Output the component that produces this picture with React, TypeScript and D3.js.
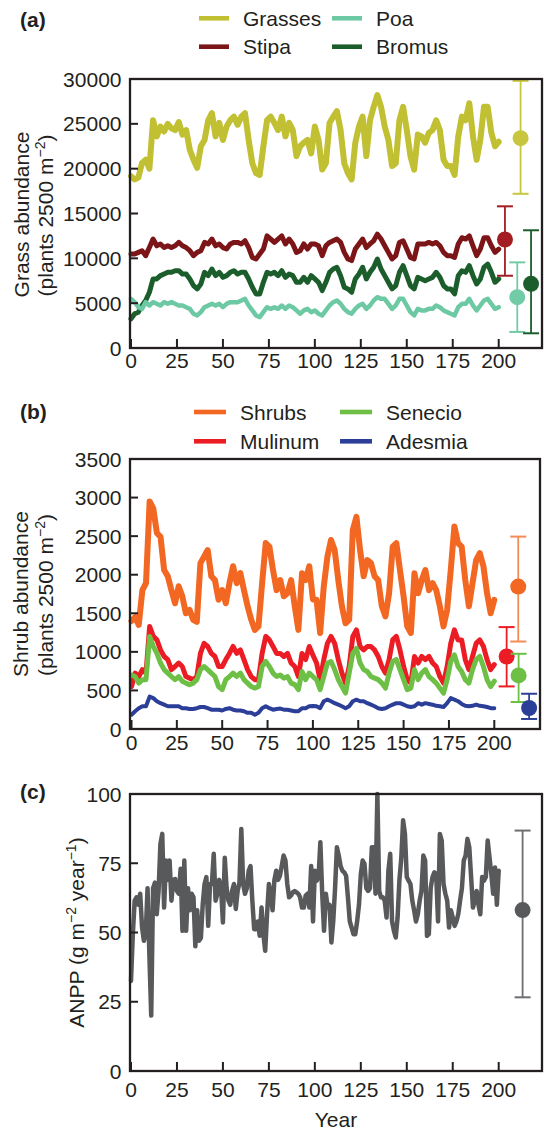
import React from "react";
import * as d3 from "d3";

// ---------- data ----------
const years2 = d3.range(0, 201, 2);
const years1 = d3.range(0, 201, 1);

const xTicks = [0, 25, 50, 75, 100, 125, 150, 175, 200];
const grassTicks = [0, 5000, 10000, 15000, 20000, 25000, 30000];
const shrubTicks = [0, 500, 1000, 1500, 2000, 2500, 3000, 3500];
const anppTicks = [0, 25, 50, 75, 100];

const grasses = [
  19150, 18800, 19000, 20640, 21000, 20000, 25400, 23600, 24700, 24150,
  25000, 24500, 24300, 25200, 23800, 24300, 22100, 21000, 20100, 22500,
  23200, 25400, 26200, 23600, 25100, 23200, 24700, 25400, 25800, 24900,
  25800, 26200, 23200, 20600, 19500, 19300, 22500, 25400, 25800, 25100,
  24300, 25800, 23600, 25100, 24300, 21400, 22500, 22900, 23200, 21700,
  24700, 23200, 19900, 20600, 25100, 25800, 26400, 24300, 20600, 19500,
  18800, 22900, 24700, 25800, 21400, 25400, 26900, 28200, 26900, 24700,
  23200, 20300, 20600, 25400, 26900, 24300, 21400, 19900, 23800, 23600,
  22900, 24000, 24300, 25400, 24300, 21000, 20300, 20300, 19300, 23600,
  25800, 25400, 27300, 23600, 21000, 23200, 26900, 26900, 24000, 22500,
  23000,
];
const stipa = [
  10480, 10480, 10665, 10850, 10300, 11200, 12150, 11400, 11600, 11200,
  11400, 11200, 11400, 11775, 11400, 11200, 10850, 10300, 10665, 10850,
  11775, 11600, 12150, 11400, 11600, 11200, 11035, 11600, 11775, 11775,
  11600, 11960, 11200, 10100, 9925, 10480, 11035, 12500, 12150, 11775,
  12150, 12500, 11600, 12150, 11600, 10665, 10850, 11600, 11035, 11600,
  11600, 11400, 10300, 11400, 11775, 11960, 12150, 11775, 10665, 9925,
  9750, 11035, 11600, 12150, 11200, 11600, 11960, 12700, 12150, 11400,
  10665, 9925, 10300, 11775, 11960, 11035, 10100, 9925, 11600, 11600,
  11600, 11775, 11600, 11775, 11400, 10665, 10300, 10300, 10100, 11600,
  12300, 12150, 12500, 11400, 10300, 11035, 12300, 12300, 11400, 10665,
  11035,
];
const poa = [
  5480, 5110, 4550, 4370, 5110, 4740, 5110, 4930, 4740, 5110,
  4930, 5110, 4930, 4740, 4740, 4550, 4370, 3820, 3630, 4000,
  4550, 4740, 4930, 4740, 4930, 4550, 4930, 5110, 5110, 5110,
  5300, 5480, 4740, 4190, 3630, 3450, 4000, 4550, 4370, 4550,
  4370, 4740, 4370, 4740, 4550, 4190, 3820, 4190, 4370, 4000,
  4190, 3820, 3630, 4190, 4740, 5110, 5300, 4930, 4370, 4000,
  3820, 4370, 4740, 4930, 4370, 4740, 5300, 5670, 5480, 5480,
  4930, 4370, 4740, 5480, 5480, 4740, 4000, 3630, 4370, 4190,
  4190, 4370, 4370, 4740, 4550, 4190, 4000, 3820, 3630, 4550,
  4930, 4930, 5480, 4740, 4190, 4740, 5300, 5480, 4930, 4370,
  4550,
];
const bromus = [
  3260, 3820, 4000, 4740, 5300, 6220, 7700, 7700, 8070, 8250,
  8440, 8440, 8620, 8620, 8250, 8250, 7700, 6960, 6590, 7140,
  8440, 8070, 8810, 8070, 8440, 7880, 8070, 8440, 8620, 8250,
  8440, 8440, 7700, 6775, 6035, 6035, 7330, 8440, 8250, 8440,
  8070, 8620, 7880, 8250, 8070, 7330, 7330, 7880, 7330, 8070,
  7700, 7330, 6400, 7330, 8440, 8810, 9000, 8070, 6775, 6590,
  6220, 7700, 8250, 9000, 7700, 8440, 9000, 9920, 8810, 8070,
  7330, 6590, 6960, 8440, 9180, 8070, 6960, 6590, 7880, 7700,
  7510, 7700, 7880, 8440, 7880, 6960, 6590, 6590, 6035, 8070,
  8620, 8440, 9180, 8070, 7140, 7700, 9000, 9360, 8440, 7330,
  7700,
];

const shrubs = [
  1400, 1450, 1350, 1800, 1890, 2950, 2860, 2540, 2490, 2060,
  1980, 1800, 1630, 1850, 1720, 1500, 1545, 1415, 1390, 2150,
  2235, 2320, 1980, 1930, 1675, 1800, 1630, 1890, 2110, 1890,
  2020, 1800, 1590, 1415, 1285, 1330, 1890, 2410, 2365, 2060,
  1800, 1930, 1720, 1760, 1930, 1590, 1285, 2020, 1930, 2110,
  1680, 1675, 1245, 1850, 2235, 2450, 2320, 1930, 1590, 1370,
  1415, 2580, 2750, 2320, 1980, 2190, 2150, 1980, 1930, 1590,
  1460, 1760, 2365, 2410, 2060, 1720, 1330, 1245, 2020, 1760,
  1930, 2060, 1800, 1890, 1800, 1590, 1330, 1545, 2060, 2625,
  2410, 2365, 1930, 1590, 1890, 2190, 2280, 2110, 1760, 1500,
  1675,
];
const mulinum = [
  550, 725, 680, 770, 725, 1330, 1200, 1155, 1025, 940,
  900, 770, 810, 855, 810, 680, 660, 640, 680, 980,
  1110, 1070, 980, 940, 810, 810, 900, 980, 1070, 980,
  1025, 900, 770, 680, 640, 640, 980, 1200, 1155, 1070,
  980, 980, 940, 980, 855, 810, 680, 980, 900, 1070,
  960, 855, 640, 900, 1110, 1200, 1110, 900, 725, 595,
  810, 1200, 1285, 1070, 1025, 1070, 1070, 1025, 940, 810,
  725, 900, 1155, 1200, 1025, 810, 640, 595, 940, 855,
  940, 900, 940, 855, 810, 680, 595, 810, 1110, 1285,
  1155, 1155, 900, 770, 940, 1110, 1155, 1070, 900, 770,
  835,
];
const senecio = [
  700, 680, 595, 640, 640, 1200, 1070, 980, 855, 770,
  725, 680, 640, 680, 620, 595, 575, 595, 640, 770,
  810, 770, 725, 680, 550, 510, 640, 680, 725, 680,
  725, 640, 595, 550, 530, 550, 810, 875, 810, 725,
  680, 700, 660, 680, 595, 575, 510, 745, 640, 725,
  680, 640, 510, 680, 855, 875, 770, 640, 550, 465,
  725, 980, 1045, 855, 770, 745, 680, 660, 640, 595,
  530, 725, 875, 900, 770, 640, 510, 530, 770, 640,
  725, 770, 680, 640, 595, 530, 465, 640, 875, 960,
  810, 745, 640, 595, 770, 900, 940, 810, 640, 550,
  620,
];
const adesmia = [
  185, 230, 270, 295, 295, 420, 400, 360, 335, 315,
  295, 295, 295, 295, 270, 270, 260, 260, 270, 285,
  285, 270, 250, 250, 250, 240, 260, 270, 250, 240,
  240, 230, 210, 210, 185, 210, 270, 295, 270, 250,
  260, 265, 250, 250, 240, 230, 230, 270, 270, 295,
  298, 295, 270, 360, 380, 360, 335, 315, 295, 270,
  295, 360, 380, 360, 360, 335, 315, 295, 270, 260,
  270, 295, 315, 335, 335, 315, 295, 285, 295, 335,
  315, 335, 325, 315, 300, 295, 285, 335, 400, 380,
  360, 325, 300, 295, 300, 315, 300, 295, 285, 270,
  270,
];

const anpp = [
  32.5, 49.4, 61.5, 62.7, 60, 64, 52, 47, 49.4, 66,
  42, 20, 66, 68, 56.6, 65, 82, 85.6, 59, 76,
  69, 76, 61.5, 69, 69.3, 65, 64, 73, 50.6, 76,
  50.6, 66, 58, 64, 62.7, 45, 58, 47, 48, 60,
  67.5, 70, 52.4, 67.5, 67.5, 78.4, 61.5, 64, 69, 66,
  53.6, 77, 66, 61.5, 60, 65, 67.5, 58.5, 65, 68,
  87.4, 67.5, 64, 66, 72.3, 74, 61.5, 51.2, 51.2, 54,
  48.8, 59, 49.4, 43.4, 56.6, 67.5, 64, 58, 69, 72.3,
  69, 70.5, 74, 77.8, 76, 67.5, 62.7, 63.3, 64.5, 65,
  64.5, 64, 62.7, 59, 59, 63.3, 64, 59, 74, 54,
  72.3, 68.7, 70, 82.6, 64, 50.6, 64, 59, 60, 46.4,
  54, 66, 80.8, 77.8, 74, 72.3, 71.7, 70.5, 62.7, 54,
  51.8, 49.4, 49.4, 54, 60, 71, 76, 74.8, 66, 65,
  66, 80.8, 80.8, 64, 100, 65, 62.7, 62.7, 61.5, 55.4,
  72.3, 78.4, 54, 50.6, 48.2, 55.4, 69, 76.6, 90.5, 85.6,
  70, 68.7, 67.5, 61.5, 58, 54, 56.6, 61.5, 65, 77.8,
  76, 48.8, 49.4, 66, 70, 71.7, 71, 54, 85.6, 83.2,
  67.5, 64, 61.5, 51.8, 58, 55.4, 52.4, 54, 56.6, 61.5,
  66, 76, 77.8, 83.8, 80.8, 70, 59, 61.5, 65, 60,
  56.6, 70, 68.7, 70, 83.2, 77.2, 71, 64, 73.5, 60,
  72.3,
];

// summary (mean and range) shown at the right of each panel
const grassNames = ["Grasses", "Stipa", "Poa", "Bromus"];
const grassMean = [23400, 12100, 5670, 7160];
const grassLo = [17200, 8060, 1790, 1640];
const grassHi = [29800, 15800, 9550, 13130];

const shrubNames = ["Shrubs", "Mulinum", "Senecio", "Adesmia"];
const shrubMean = [1846, 940, 694, 272];
const shrubLo = [1134, 552, 350, 130];
const shrubHi = [2494, 1321, 975, 457];

const anppMean = [58.1];
const anppLo = [26.6];
const anppHi = [86.8];

// ---------- styling / layout ----------
const FONT = '"Liberation Sans", Arial, Helvetica, sans-serif';
const INK = "#231f20";
const FS = 21;

const grassColors = ["#c1bf32", "#7b1517", "#6dc9a3", "#1b5e2b"];
const grassBarColors = ["#c8c63e", "#a21c22", "#72cba7", "#1b5e2b"];
const grassWidths = [6, 5, 4.5, 5];
const grassBarPos = [211.9, 203.4, 210.1, 217.6];

const shrubColors = ["#f26722", "#ec1c24", "#6dbf45", "#2b3f98"];
const shrubBarColors = ["#f68c55", "#ec1c24", "#6dbf45", "#2b3f98"];
const shrubWidths = [6, 5, 5, 4];
const shrubBarPos = [213.2, 206.8, 213.4, 219.2];

const anppColor = "#58595b";
const anppBarColor = "#6d6e71";
const anppBarPos = [213];

type Frame = { l: number; r: number; t: number; b: number; x200: number; x0: number };
const frameA: Frame = { l: 130, r: 542, t: 79, b: 348, x0: 131, x200: 498.7 };
const frameB: Frame = { l: 130, r: 540, t: 459, b: 729, x0: 131.5, x200: 494.3 };
const frameC: Frame = { l: 130, r: 542, t: 794, b: 1071, x0: 131, x200: 498.7 };

function Axes({ f, y, yTicks, labelBase }: { f: Frame; y: d3.ScaleLinear<number, number>; yTicks: number[]; labelBase: number }) {
  const x = d3.scaleLinear().domain([0, 200]).range([f.x0, f.x200]);
  return (
    <g>
      {xTicks.map((t) => (
        <g key={"x" + t}>
          <line x1={x(t)} x2={x(t)} y1={f.b} y2={f.b - 9} stroke={INK} strokeWidth={2} />
          <text x={x(t)} y={labelBase} textAnchor="middle" fontSize={FS} fill={INK}>
            {t}
          </text>
        </g>
      ))}
      {yTicks.map((t) => (
        <g key={"y" + t}>
          <line x1={f.l} x2={f.l + 8} y1={y(t)} y2={y(t)} stroke={INK} strokeWidth={2} />
          <text x={121.5} y={y(t)} dy="0.36em" textAnchor="end" fontSize={FS} fill={INK}>
            {t}
          </text>
        </g>
      ))}
      <rect x={f.l} y={f.t} width={f.r - f.l} height={f.b - f.t} fill="none" stroke={INK} strokeWidth={2.3} />
    </g>
  );
}

function ErrBar({ cx, yMean, yLo, yHi, color, dot }: { cx: number; yMean: number; yLo: number; yHi: number; color: string; dot: string }) {
  return (
    <g>
      <line x1={cx} x2={cx} y1={yLo} y2={yHi} stroke={color} strokeWidth={1.8} />
      <line x1={cx - 8} x2={cx + 8} y1={yLo} y2={yLo} stroke={color} strokeWidth={2} />
      <line x1={cx - 8} x2={cx + 8} y1={yHi} y2={yHi} stroke={color} strokeWidth={2} />
      <circle cx={cx} cy={yMean} r={8} fill={dot} />
    </g>
  );
}

function LegendItem({ x1, x2, y, label, color, w }: { x1: number; x2: number; y: number; label: string; color: string; w: number }) {
  return (
    <g>
      <line x1={x1} x2={x2} y1={y} y2={y} stroke={color} strokeWidth={w} />
      <text x={x2 + 14} y={y + 7.6} fontSize={FS} fill={INK}>
        {label}
      </text>
    </g>
  );
}

export default function App() {
  const xA = d3.scaleLinear().domain([0, 200]).range([frameA.x0, frameA.x200]);
  const xB = d3.scaleLinear().domain([0, 200]).range([frameB.x0, frameB.x200]);
  const xC = d3.scaleLinear().domain([0, 200]).range([frameC.x0, frameC.x200]);
  const yA = d3.scaleLinear().domain([0, 30000]).range([frameA.b, frameA.t]);
  const yB = d3.scaleLinear().domain([0, 3500]).range([frameB.b, frameB.t]);
  const yC = d3.scaleLinear().domain([0, 100]).range([frameC.b, frameC.t]);

  const lineA = d3.line<number>().x((_, i) => xA(years2[i])).y((d) => yA(d));
  const lineB = d3.line<number>().x((_, i) => xB(years2[i])).y((d) => yB(d));
  const lineC = d3.line<number>().x((_, i) => xC(years1[i])).y((d) => yC(d));

  const grassSeries = [grasses, stipa, poa, bromus];
  const grassOrder = [0, 1, 3, 2];
  const shrubSeries = [shrubs, mulinum, senecio, adesmia];
  const shrubOrder = [0, 1, 2, 3];

  return (
    <svg
      width={544}
      height={1130}
      style={{ position: "absolute", left: 0, top: 0, background: "#fff" }}
      fontFamily={FONT}
    >
      <rect x={0} y={0} width={544} height={1130} fill="#fff" />

      {/* ---------- panel (a) ---------- */}
      <text x={20} y={27.3} fontSize={FS} fontWeight="bold" fill={INK}>(a)</text>
      <LegendItem x1={199} x2={229} y={18.3} label={grassNames[0]} color={grassColors[0]} w={4.6} />
      <LegendItem x1={332} x2={362} y={18.3} label={grassNames[2]} color={grassColors[2]} w={4.6} />
      <LegendItem x1={199} x2={229} y={46.7} label={grassNames[1]} color={grassColors[1]} w={4.6} />
      <LegendItem x1={332} x2={362} y={46.7} label={grassNames[3]} color={grassColors[3]} w={4.6} />

      <text transform={`translate(28.5, ${(frameA.t + frameA.b) / 2 + 1}) rotate(-90)`} textAnchor="middle" fontSize={FS} fill={INK}>
        Grass abundance
      </text>
      <text transform={`translate(52.5, ${(frameA.t + frameA.b) / 2 + 2}) rotate(-90)`} textAnchor="middle" fontSize={FS} fill={INK}>
        (plants 2500 m<tspan dy={-8} fontSize={14}>−2</tspan><tspan dy={8}>)</tspan>
      </text>

      {grassOrder.map((k) => (
        <path key={"ga" + k} d={lineA(grassSeries[k]) || ""} fill="none" stroke={grassColors[k]} strokeWidth={grassWidths[k]} strokeLinejoin="round" strokeLinecap="round" />
      ))}
      {grassNames.map((n, k) => (
        <ErrBar key={"ea" + n} cx={xA(grassBarPos[k])} yMean={yA(grassMean[k])} yLo={yA(grassLo[k])} yHi={yA(grassHi[k])} color={grassBarColors[k]} dot={grassBarColors[k]} />
      ))}
      <Axes f={frameA} y={yA} yTicks={grassTicks} labelBase={368} />

      {/* ---------- panel (b) ---------- */}
      <text x={20} y={419} fontSize={FS} fontWeight="bold" fill={INK}>(b)</text>
      <LegendItem x1={194} x2={226} y={412} label={shrubNames[0]} color={shrubColors[0]} w={4.6} />
      <LegendItem x1={340} x2={372} y={412} label={shrubNames[2]} color={shrubColors[2]} w={4.6} />
      <LegendItem x1={194} x2={226} y={441.3} label={shrubNames[1]} color={shrubColors[1]} w={4.6} />
      <LegendItem x1={340} x2={372} y={441.3} label={shrubNames[3]} color={shrubColors[3]} w={4.6} />

      <text transform={`translate(28, ${(frameB.t + frameB.b) / 2}) rotate(-90)`} textAnchor="middle" fontSize={FS} fill={INK}>
        Shrub abundance
      </text>
      <text transform={`translate(52.5, ${(frameB.t + frameB.b) / 2 + 1}) rotate(-90)`} textAnchor="middle" fontSize={FS} fill={INK}>
        (plants 2500 m<tspan dy={-8} fontSize={14}>−2</tspan><tspan dy={8}>)</tspan>
      </text>

      {shrubOrder.map((k) => (
        <path key={"sb" + k} d={lineB(shrubSeries[k]) || ""} fill="none" stroke={shrubColors[k]} strokeWidth={shrubWidths[k]} strokeLinejoin="round" strokeLinecap="round" />
      ))}
      {shrubNames.map((n, k) => (
        <ErrBar key={"eb" + n} cx={xB(shrubBarPos[k])} yMean={yB(shrubMean[k])} yLo={yB(shrubLo[k])} yHi={yB(shrubHi[k])} color={shrubBarColors[k]} dot={shrubColors[k]} />
      ))}
      <Axes f={frameB} y={yB} yTicks={shrubTicks} labelBase={750} />

      {/* ---------- panel (c) ---------- */}
      <text x={20} y={799} fontSize={FS} fontWeight="bold" fill={INK}>(c)</text>
      <text transform={`translate(84, ${(frameC.t + frameC.b) / 2}) rotate(-90)`} textAnchor="middle" fontSize={FS} fill={INK}>
        ANPP (g m<tspan dy={-8} fontSize={14}>−2</tspan>
        <tspan dy={8}> year</tspan>
        <tspan dy={-8} fontSize={14}>−1</tspan>
        <tspan dy={8}>)</tspan>
      </text>
      <path d={lineC(anpp) || ""} fill="none" stroke={anppColor} strokeWidth={4.5} strokeLinejoin="round" strokeLinecap="round" />
      <ErrBar cx={xC(anppBarPos[0])} yMean={yC(anppMean[0])} yLo={yC(anppLo[0])} yHi={yC(anppHi[0])} color={anppBarColor} dot={anppColor} />
      <Axes f={frameC} y={yC} yTicks={anppTicks} labelBase={1097} />
      <text x={(frameC.l + frameC.r) / 2} y={1126.5} textAnchor="middle" fontSize={FS} fill={INK}>
        Year
      </text>
    </svg>
  );
}
